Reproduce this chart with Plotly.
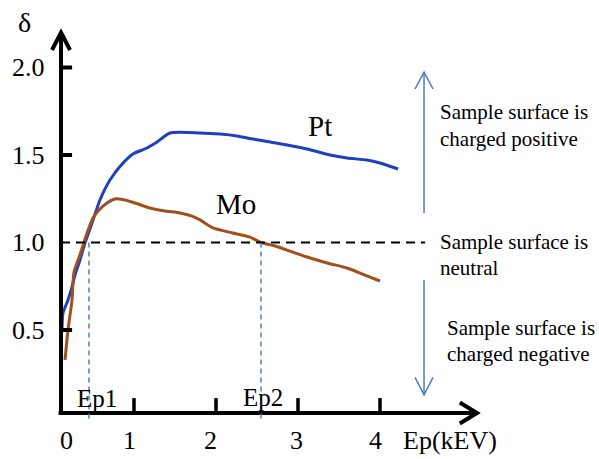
import plotly.graph_objects as go

# ---------------- data (schematic) ----------------
pt_x = [0.122, 0.134, 0.195, 0.244, 0.28, 0.341, 0.402, 0.488, 0.585, 0.707, 0.866, 0.988,
        1.159, 1.28, 1.439, 1.805, 2.049, 2.256, 2.451, 2.659, 2.866, 3.11, 3.39, 3.598,
        3.841, 4.0, 4.22]
pt_y = [0.5, 0.597, 0.671, 0.746, 0.814, 0.9, 0.997, 1.111, 1.243, 1.357, 1.454, 1.506,
        1.54, 1.574, 1.626, 1.626, 1.62, 1.609, 1.591, 1.574, 1.557, 1.534, 1.5, 1.483,
        1.471, 1.454, 1.42]

mo_x = [0.159, 0.195, 0.244, 0.268, 0.341, 0.427, 0.5, 0.585, 0.671, 0.768, 0.89, 1.012,
        1.195, 1.378, 1.561, 1.707, 1.805, 1.963, 2.207, 2.415, 2.549, 2.72, 2.902, 3.11,
        3.354, 3.598, 3.817, 4.0]
mo_y = [0.329, 0.5, 0.671, 0.831, 0.929, 1.054, 1.14, 1.191, 1.226, 1.249, 1.243, 1.226,
        1.197, 1.18, 1.169, 1.151, 1.129, 1.083, 1.054, 1.031, 1.0, 0.98, 0.951, 0.917,
        0.883, 0.854, 0.814, 0.78]

ep1 = 0.451
ep2 = 2.549
neutral = 1.0

y_ticks = [2.0, 1.5, 0.5]
y_tick_labels = ["2.0", "1.5", "1.0", "0.5"]
y_tick_label_vals = [2.0, 1.5, 1.0, 0.5]
x_ticks = [1, 2, 3, 4]
x_tick_labels = ["0", "1", "2", "3", "4"]
x_tick_label_pos = [0.18, 0.95, 1.93, 2.98, 3.95]

# ---------------- geometry constants ----------------
AX_X = 0.11      # position of vertical axis
AX_Y = 0.026     # position of horizontal axis
Y_TIP = 2.2
X_TIP = 5.183
SERIF = "Liberation Serif"
BLACK = "#000000"
LBLUE = "#4a7ebb"

fig = go.Figure()
fig.add_trace(go.Scatter(x=pt_x, y=pt_y, mode="lines", line_shape="spline",
                         line=dict(color="#1f3fbf", width=3, smoothing=0.6), showlegend=False))
fig.add_trace(go.Scatter(x=mo_x, y=mo_y, mode="lines", line_shape="spline",
                         line=dict(color="#a0501c", width=3, smoothing=0.6), showlegend=False))

shapes = []
# axes
shapes.append(dict(type="line", x0=AX_X, x1=AX_X, y0=AX_Y, y1=Y_TIP,
                   line=dict(color=BLACK, width=4)))
shapes.append(dict(type="line", x0=AX_X - 0.03, x1=X_TIP, y0=AX_Y, y1=AX_Y,
                   line=dict(color=BLACK, width=4)))
# arrow heads (open chevrons)
shapes.append(dict(type="path",
                   path=f"M {AX_X-0.11},{Y_TIP-0.1} L {AX_X},{Y_TIP} L {AX_X+0.11},{Y_TIP-0.1}",
                   line=dict(color=BLACK, width=4)))
shapes.append(dict(type="path",
                   path=f"M {X_TIP-0.21},{AX_Y+0.06} L {X_TIP},{AX_Y} L {X_TIP-0.21},{AX_Y-0.06}",
                   line=dict(color=BLACK, width=4)))
# y ticks
for v in y_ticks:
    shapes.append(dict(type="line", x0=AX_X, x1=AX_X + 0.135, y0=v, y1=v,
                       line=dict(color=BLACK, width=4)))
# x ticks
for v in x_ticks:
    shapes.append(dict(type="line", x0=v, x1=v, y0=AX_Y, y1=AX_Y + 0.085,
                       line=dict(color=BLACK, width=3.5)))
# neutral dashed line
shapes.append(dict(type="line", x0=AX_X, x1=4.55, y0=neutral, y1=neutral,
                   line=dict(color=BLACK, width=2, dash="9px,6px")))
# Ep1 / Ep2 dashed verticals
for e in (ep1, ep2):
    shapes.append(dict(type="line", x0=e, x1=e, y0=neutral, y1=-0.014,
                       line=dict(color=LBLUE, width=1.5, dash="5px,4px")))
# right-hand blue arrows
AR_X = 4.537
shapes.append(dict(type="line", x0=AR_X, x1=AR_X, y0=1.169, y1=1.974,
                   line=dict(color=LBLUE, width=1.5)))
shapes.append(dict(type="path",
                   path=f"M {AR_X-0.11},{1.974-0.097} L {AR_X},{1.974} L {AR_X+0.11},{1.974-0.097}",
                   line=dict(color=LBLUE, width=1.5)))
shapes.append(dict(type="line", x0=AR_X, x1=AR_X, y0=0.786, y1=0.129,
                   line=dict(color=LBLUE, width=1.5)))
shapes.append(dict(type="path",
                   path=f"M {AR_X-0.11},{0.129+0.1} L {AR_X},{0.129} L {AR_X+0.11},{0.129+0.1}",
                   line=dict(color=LBLUE, width=1.5)))

ann = []
def txt(x, y, t, size, xanchor="center"):
    ann.append(dict(x=x, y=y, text=t, showarrow=False, xanchor=xanchor, yanchor="middle",
                    font=dict(family=SERIF, size=size, color=BLACK)))

txt(-0.33, 2.26, "δ", 28)
for lab, v in zip(y_tick_labels, y_tick_label_vals):
    txt(-0.29, v, lab, 26)
for lab, p in zip(x_tick_labels, x_tick_label_pos):
    txt(p, -0.134, lab, 26)
txt(4.854, -0.134, "Ep(kEV)", 26)
txt(0.549, 0.106, "Ep1", 25)
txt(2.573, 0.117, "Ep2", 25)
txt(3.268, 1.666, "Pt", 29)
txt(2.244, 1.22, "Mo", 29)
txt(4.707, 1.746, "Sample surface is", 21, "left")
txt(4.707, 1.591, "charged positive", 21, "left")
txt(4.707, 1.003, "Sample surface is", 21, "left")
txt(4.707, 0.854, "neutral", 21, "left")
txt(4.793, 0.511, "Sample surface is", 21, "left")
txt(4.793, 0.363, "charged negative", 21, "left")

fig.update_layout(
    width=599, height=459,
    margin=dict(l=0, r=0, t=0, b=0),
    paper_bgcolor="white", plot_bgcolor="white",
    xaxis=dict(range=[-52 / 82, 547 / 82], visible=False, fixedrange=True),
    yaxis=dict(range=[-41.5 / 175, 417.5 / 175], visible=False, fixedrange=True),
    shapes=shapes, annotations=ann, showlegend=False,
)
fig.write_html("out.html", config={"displayModeBar": False},
               post_script="document.body.style.margin='0';document.body.style.overflow='hidden';")
